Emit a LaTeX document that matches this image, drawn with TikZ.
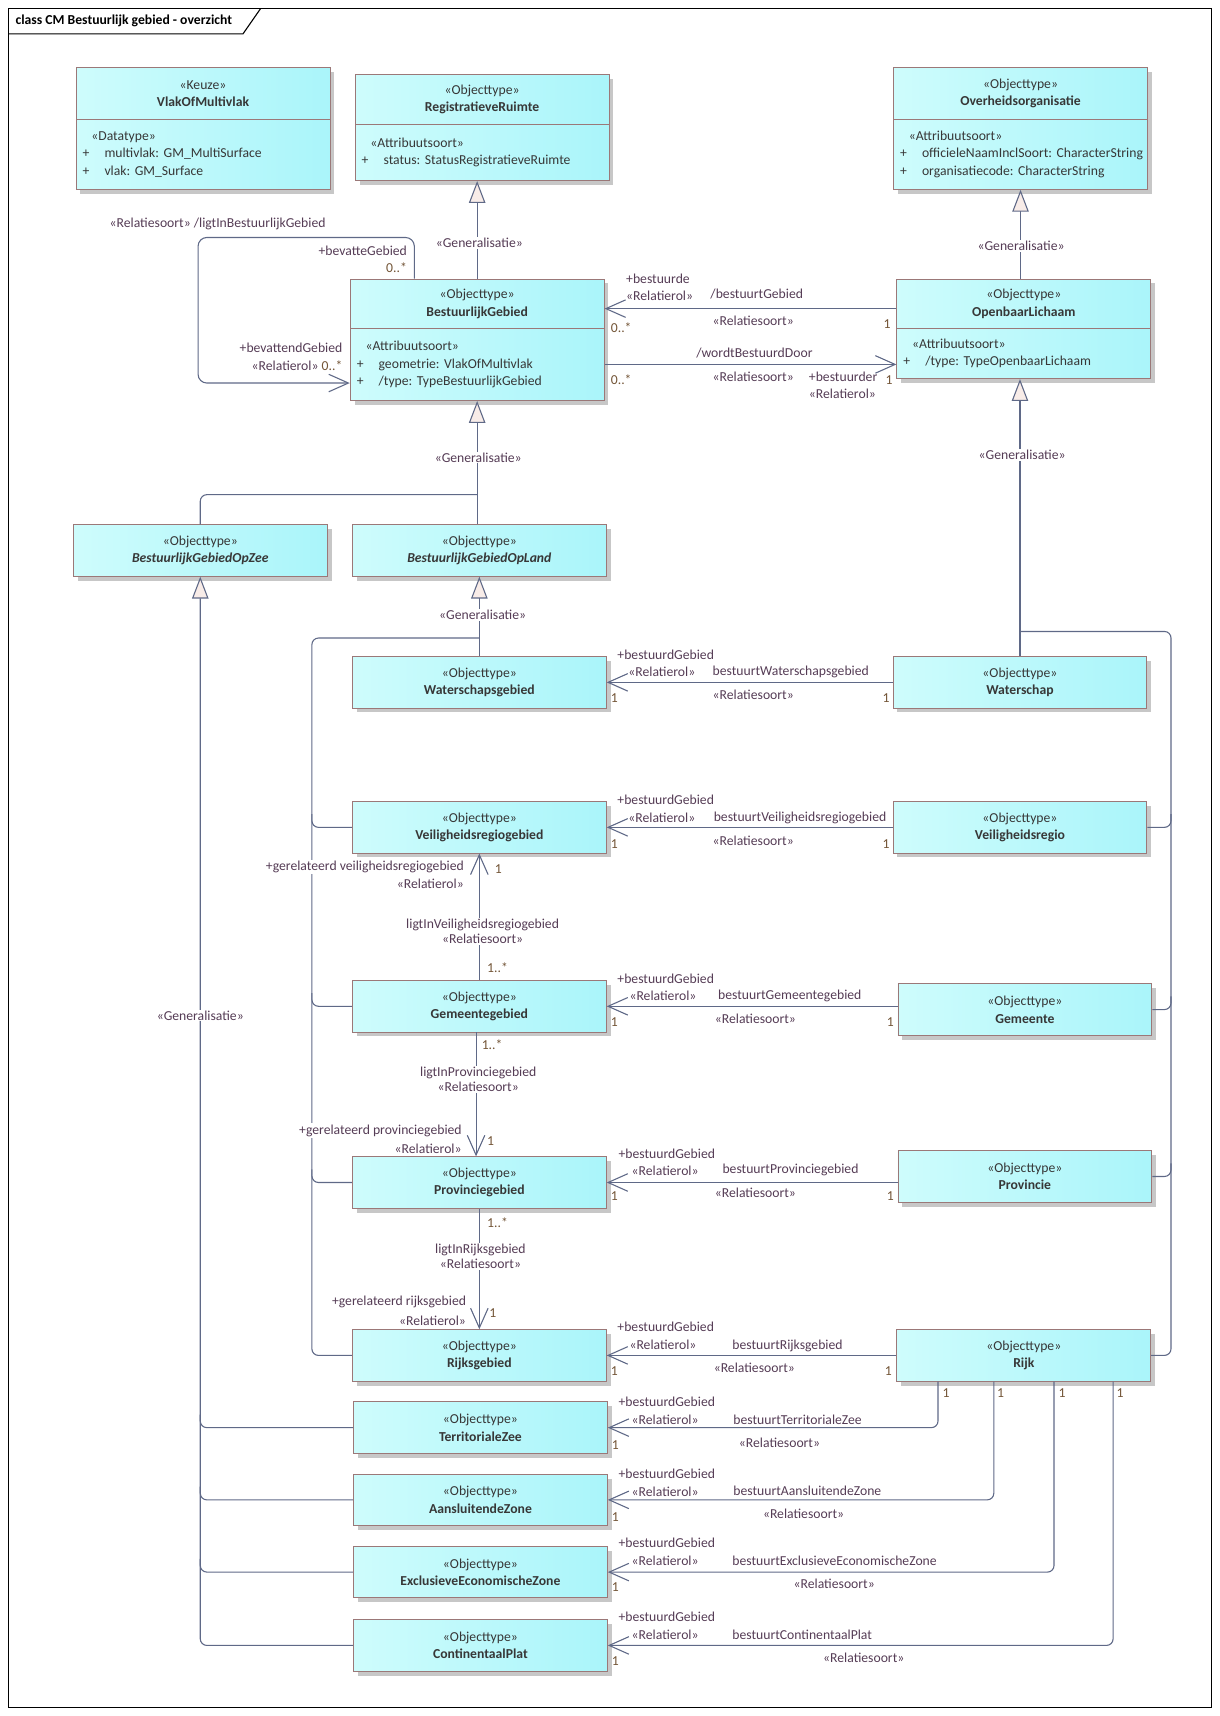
\documentclass[tikz,border=0pt]{standalone}
\usepackage{fontspec}
\setmainfont{Carlito}
\usetikzlibrary{arrows.meta, shadows}
\definecolor{boxline}{RGB}{155,120,120}
\definecolor{fillL}{RGB}{206,252,252}
\definecolor{fillR}{RGB}{170,245,250}
\definecolor{linecol}{RGB}{95,105,135}
\definecolor{boxtext}{RGB}{55,55,55}
\definecolor{lblcol}{RGB}{85,60,85}
\definecolor{multcol}{RGB}{115,85,55}
\definecolor{trifill}{RGB}{248,236,232}
\newcommand{\stereo}[1]{«#1»}
\newcommand{\attrline}[1]{\mbox{\makebox[20pt][l]{+}#1}}
\frenchspacing

\begin{document}
\begin{tikzpicture}[x=1pt,y=-1pt,
  every node/.style={font=\fontsize{12.5}{16}\selectfont\frenchspacing},
  cls/.style={draw=boxline, line width=0.8pt, left color=fillL, right color=fillR, inner sep=0pt,
    align=center, text=boxtext, minimum width=232pt,
    drop shadow={shadow xshift=4pt, shadow yshift=-4pt, fill=black!22, opacity=1}},
  box/.style={cls, minimum height=47pt},
  attr/.style={cls, align=left, text width=220pt},
  conn/.style={draw=linecol, line width=1pt},
  assoc/.style={conn, -{Straight Barb[length=18pt,width=16pt]}},
  gen/.style={conn, -{Triangle[length=20pt,width=15pt,fill=trifill]}},
  lbl/.style={text=lblcol, inner sep=1pt},
  lblw/.style={lbl, fill=white},
  twolbl/.style={lblw, align=center, font=\fontsize{12.5}{14}\selectfont},
  genlbl/.style={lbl, fill=white},
  mult/.style={text=multcol, inner sep=1pt}]
\useasboundingbox (0,0) rectangle (1114,1568);
\draw[line width=1.2pt] (8,8) rectangle (1107,1560);
\draw[line width=1pt] (8,31) -- (222,31) -- (238,8);
\node[anchor=west, inner sep=0pt, font=\fontsize{12.5}{15}\selectfont\bfseries] (title) at (14,19) {class CM Bestuurlijk gebied - overzicht};

\node[box] (vmh) at (185.5,85.5) {\stereo{Keuze}\\\textbf{VlakOfMultivlak}};
\node[attr, minimum height=64pt] (vma) at (185.5,141) {\hspace*{8pt}\stereo{Datatype}\\\attrline{multivlak: GM\_MultiSurface}\\\attrline{vlak: GM\_Surface}};
\node[cls, minimum height=46pt] (rrh) at (440.5,91) {\stereo{Objecttype}\\\textbf{RegistratieveRuimte}};
\node[attr, minimum height=51pt] (rra) at (440.5,139.5) {\hspace*{8pt}\stereo{Attribuutsoort}\\\attrline{status: StatusRegistratieveRuimte}};
\node[box] (ooh) at (932.5,85.5) {\stereo{Objecttype}\\\textbf{Overheidsorganisatie}};
\node[attr, minimum height=64pt] (ooa) at (932.5,141) {\hspace*{8pt}\stereo{Attribuutsoort}\\\attrline{officieleNaamInclSoort: CharacterString}\\\attrline{organisatiecode: CharacterString}};
\node[cls, minimum height=45pt] (bgh) at (436,277.5) {\stereo{Objecttype}\\\textbf{BestuurlijkGebied}};
\node[attr, minimum height=66pt] (bga) at (436,333) {\hspace*{8pt}\stereo{Attribuutsoort}\\\attrline{geometrie: VlakOfMultivlak}\\\attrline{/type: TypeBestuurlijkGebied}};
\node[cls, minimum height=45pt] (olh) at (935.5,277.5) {\stereo{Objecttype}\\\textbf{OpenbaarLichaam}};
\node[attr, minimum height=46pt] (ola) at (935.5,323) {\hspace*{8pt}\stereo{Attribuutsoort}\\\attrline{/type: TypeOpenbaarLichaam}};

\node[box] (bgzee) at (183,503) {\stereo{Objecttype}\\\textbf{\textit{BestuurlijkGebiedOpZee}}};
\node[box] (bgland) at (438,503) {\stereo{Objecttype}\\\textbf{\textit{BestuurlijkGebiedOpLand}}};
\node[box] (wsg) at (438,623.5) {\stereo{Objecttype}\\\textbf{Waterschapsgebied}};
\node[box] (ws) at (932,623.5) {\stereo{Objecttype}\\\textbf{Waterschap}};
\node[box] (vrg) at (438,756) {\stereo{Objecttype}\\\textbf{Veiligheidsregiogebied}};
\node[box] (vr) at (932,756) {\stereo{Objecttype}\\\textbf{Veiligheidsregio}};
\node[box] (gmg) at (438,919.5) {\stereo{Objecttype}\\\textbf{Gemeentegebied}};
\node[box] (gem) at (936.5,922.5) {\stereo{Objecttype}\\\textbf{Gemeente}};
\node[box] (pvg) at (438,1080.5) {\stereo{Objecttype}\\\textbf{Provinciegebied}};
\node[box] (prv) at (936.5,1075) {\stereo{Objecttype}\\\textbf{Provincie}};
\node[box] (rg) at (438,1238.5) {\stereo{Objecttype}\\\textbf{Rijksgebied}};
\node[box] (rijk) at (935.5,1238.5) {\stereo{Objecttype}\\\textbf{Rijk}};
\node[box] (tz) at (439,1304.5) {\stereo{Objecttype}\\\textbf{TerritorialeZee}};
\node[box] (az) at (439,1370.5) {\stereo{Objecttype}\\\textbf{AansluitendeZone}};
\node[box] (eez) at (439,1436.5) {\stereo{Objecttype}\\\textbf{ExclusieveEconomischeZone}};
\node[box] (cp) at (439,1503.5) {\stereo{Objecttype}\\\textbf{ContinentaalPlat}};

\coordinate (selfTop) at (181,217);
\coordinate (bgJoin) at (436,452);
\coordinate (landJoin) at (438,583);
\coordinate (landBus) at (285,583);
\coordinate (orgJoin) at (932,577);
\coordinate (orgBus) at (1070,577);

\draw[gen] (bgh.north) -- (bgh.north |- rra.south);
\draw[gen] (olh.north -| ooa.south) -- (ooa.south);
\draw[assoc, rounded corners=8] ([xshift=59]bgh.north west) |- (selfTop) |- ([yshift=-17]bga.west);
\draw[assoc] ([yshift=-4.5]olh.west) -- ([yshift=-4.5]olh.west -| bgh.east);
\draw[assoc] (bga.east) -- (bga.east -| ola.west);

\draw[conn, rounded corners=6] (bgzee.north) |- (bgJoin);
\draw[gen] (bga.south |- bgland.north) -- (bga.south);

\draw[conn, rounded corners=6] (rg.west) -| (landBus) -- (landJoin);
\draw[conn, rounded corners=6] (vrg.west) -| ([yshift=12]vrg.west -| landBus);
\draw[conn, rounded corners=6] (gmg.west) -| ([yshift=12]gmg.west -| landBus);
\draw[conn, rounded corners=6] (pvg.west) -| ([yshift=12]pvg.west -| landBus);
\draw[gen] (wsg.north) -- (bgland.south);

\draw[conn, rounded corners=6] (tz.west) -| ([yshift=12]tz.west -| bgzee.south);
\draw[conn, rounded corners=6] (az.west) -| ([yshift=12]az.west -| bgzee.south);
\draw[conn, rounded corners=6] (eez.west) -| ([yshift=12]eez.west -| bgzee.south);
\draw[gen, rounded corners=6] (cp.west) -| (bgzee.south);

\draw[conn, rounded corners=6] (rijk.east) -| (orgBus) -- (orgJoin);
\draw[conn, rounded corners=6] (vr.east) -| ([yshift=12]vr.east -| orgBus);
\draw[conn, rounded corners=6] (gem.east) -| ([yshift=12]gem.east -| orgBus);
\draw[conn, rounded corners=6] (prv.east) -| ([yshift=12]prv.east -| orgBus);
\draw[gen] (ws.north) -- (ws.north |- ola.south);

\draw[assoc] (ws.west) -- (wsg.east);
\draw[assoc] (vr.west) -- (vrg.east);
\draw[assoc] (gem.west |- gmg.east) -- (gmg.east);
\draw[assoc] (prv.west |- pvg.east) -- (pvg.east);
\draw[assoc] (rijk.west) -- (rg.east);
\draw[assoc, rounded corners=6] ([xshift=38]rijk.south west) |- (tz.east);
\draw[assoc, rounded corners=6] ([xshift=89]rijk.south west) |- (az.east);
\draw[assoc, rounded corners=6] ([xshift=144]rijk.south west) |- (eez.east);
\draw[assoc, rounded corners=6] ([xshift=198]rijk.south west) |- (cp.east);

\draw[assoc] (gmg.north) -- (vrg.south);
\draw[assoc] ([xshift=-3]gmg.south) -- ([xshift=-3]pvg.north);
\draw[assoc] (pvg.south) -- (rg.north);

\node[genlbl] (genRR) at (438,222) {\stereo{Generalisatie}};
\node[genlbl] (genOO) at (933,225) {\stereo{Generalisatie}};
\node[genlbl] (genBG) at (437,418) {\stereo{Generalisatie}};
\node[genlbl] (genLand) at (441,562) {\stereo{Generalisatie}};
\node[genlbl] (genOL) at (934,416) {\stereo{Generalisatie}};
\node[genlbl] (genZee) at (183,928) {\stereo{Generalisatie}};

\node[lbl, anchor=west] (selfNaam) at (99,205) {\stereo{Relatiesoort} /ligtInBestuurlijkGebied};
\node[lbl, anchor=east] (selfRolA) at (373,229) {+bevatteGebied};
\node[mult, anchor=east] (selfMultA) at (373,245) {0..*};
\node[lbl, anchor=east] (selfRolB) at (314,318) {+bevattendGebied};
\node[lbl, anchor=east] (selfMultB) at (314,334) {\stereo{Relatierol} \textcolor{multcol}{0..*}};

\node[lbl, anchor=west] (bgRol) at (571,255) {+bestuurde};
\node[lbl, anchor=west] (bgRolSt) at (571,270) {\stereo{Relatierol}};
\node[lbl, anchor=west] (bgNaam) at (648,269) {/bestuurtGebied};
\node[lbl, anchor=west] (bgSoort) at (650,293) {\stereo{Relatiesoort}};
\node[mult, anchor=west] (bgMultA) at (557,299) {0..*};
\node[mult, anchor=east] (olMultA) at (815,296) {1};
\node[lbl, anchor=west] (olNaam) at (635,323) {/wordtBestuurdDoor};
\node[lbl, anchor=west] (olSoort) at (650,344) {\stereo{Relatiesoort}};
\node[lbl, anchor=west] (olRol) at (738,344) {+bestuurder};
\node[lbl, anchor=west] (olRolSt) at (738,360) {\stereo{Relatierol}};
\node[mult, anchor=west] (bgMultB) at (557,347) {0..*};
\node[mult, anchor=west] (olMultB) at (808,347) {1};

\node[lbl, anchor=west] (wsRol) at (563,598) {+bestuurdGebied};
\node[lbl, anchor=west] (wsRolSt) at (573,614) {\stereo{Relatierol}};
\node[lbl, anchor=west] (wsNaam) at (650,614) {bestuurtWaterschapsgebied};
\node[lbl, anchor=west] (wsSoort) at (650,635) {\stereo{Relatiesoort}};
\node[mult, anchor=west] (wsgMult) at (557,638) {1};
\node[mult, anchor=east] (wsMult) at (814,638) {1};

\node[lbl, anchor=west] (vrRol) at (563,731) {+bestuurdGebied};
\node[lbl, anchor=west] (vrRolSt) at (573,747) {\stereo{Relatierol}};
\node[lbl, anchor=west] (vrNaam) at (651,747) {bestuurtVeiligheidsregiogebied};
\node[lbl, anchor=west] (vrSoort) at (650,768) {\stereo{Relatiesoort}};
\node[mult, anchor=west] (vrgMultR) at (557,771) {1};
\node[mult, anchor=east] (vrMult) at (814,771) {1};

\node[lbl, anchor=west] (gemRol) at (563,894) {+bestuurdGebied};
\node[lbl, anchor=west] (gemRolSt) at (574,910) {\stereo{Relatierol}};
\node[lbl, anchor=west] (gemNaam) at (655,910) {bestuurtGemeentegebied};
\node[lbl, anchor=west] (gemSoort) at (652,931) {\stereo{Relatiesoort}};
\node[mult, anchor=west] (gmgMultR) at (557,934) {1};
\node[mult, anchor=east] (gemMult) at (818,934) {1};

\node[lbl, anchor=west] (prvRol) at (564,1054) {+bestuurdGebied};
\node[lbl, anchor=west] (prvRolSt) at (576,1070) {\stereo{Relatierol}};
\node[lbl, anchor=west] (prvNaam) at (659,1069) {bestuurtProvinciegebied};
\node[lbl, anchor=west] (prvSoort) at (652,1090) {\stereo{Relatiesoort}};
\node[mult, anchor=west] (pvgMultR) at (557,1093) {1};
\node[mult, anchor=east] (prvMult) at (818,1093) {1};

\node[lbl, anchor=west] (rijkRol) at (563,1212) {+bestuurdGebied};
\node[lbl, anchor=west] (rijkRolSt) at (574,1229) {\stereo{Relatierol}};
\node[lbl, anchor=west] (rijkNaam) at (668,1230) {bestuurtRijksgebied};
\node[lbl, anchor=west] (rijkSoort) at (651,1250) {\stereo{Relatiesoort}};
\node[mult, anchor=west] (rgMultR) at (557,1253) {1};
\node[mult, anchor=east] (rijkMult) at (816,1253) {1};

\node[lbl, anchor=west] (tzRol) at (564,1281) {+bestuurdGebied};
\node[lbl, anchor=west] (tzRolSt) at (576,1297) {\stereo{Relatierol}};
\node[lbl, anchor=west] (tzNaam) at (669,1297) {bestuurtTerritorialeZee};
\node[lbl, anchor=west] (tzSoort) at (674,1318) {\stereo{Relatiesoort}};
\node[mult, anchor=west] (tzMult) at (558,1320) {1};
\node[mult, anchor=west] (rijkMultTz) at (860,1273) {1};

\node[lbl, anchor=west] (azRol) at (564,1347) {+bestuurdGebied};
\node[lbl, anchor=west] (azRolSt) at (576,1363) {\stereo{Relatierol}};
\node[lbl, anchor=west] (azNaam) at (669,1362) {bestuurtAansluitendeZone};
\node[lbl, anchor=west] (azSoort) at (696,1383) {\stereo{Relatiesoort}};
\node[mult, anchor=west] (azMult) at (558,1386) {1};
\node[mult, anchor=west] (rijkMultAz) at (910,1273) {1};

\node[lbl, anchor=west] (eezRol) at (564,1410) {+bestuurdGebied};
\node[lbl, anchor=west] (eezRolSt) at (576,1426) {\stereo{Relatierol}};
\node[lbl, anchor=west] (eezNaam) at (668,1426) {bestuurtExclusieveEconomischeZone};
\node[lbl, anchor=west] (eezSoort) at (724,1447) {\stereo{Relatiesoort}};
\node[mult, anchor=west] (eezMult) at (558,1450) {1};
\node[mult, anchor=west] (rijkMultEez) at (966,1273) {1};

\node[lbl, anchor=west] (cpRol) at (564,1477) {+bestuurdGebied};
\node[lbl, anchor=west] (cpRolSt) at (576,1494) {\stereo{Relatierol}};
\node[lbl, anchor=west] (cpNaam) at (668,1494) {bestuurtContinentaalPlat};
\node[lbl, anchor=west] (cpSoort) at (751,1515) {\stereo{Relatiesoort}};
\node[mult, anchor=west] (cpMult) at (558,1518) {1};
\node[mult, anchor=west] (rijkMultCp) at (1019,1273) {1};

\node[lblw, anchor=east] (vrgRol) at (425,792) {+gerelateerd veiligheidsregiogebied};
\node[lbl, anchor=east] (vrgRolSt) at (425,808) {\stereo{Relatierol}};
\node[mult, anchor=west] (vrgMult) at (451,794) {1};
\node[twolbl] (vrgNaam) at (441,851) {ligtInVeiligheidsregiogebied\\\stereo{Relatiesoort}};
\node[mult, anchor=west] (gmgMultA) at (444,884) {1..*};

\node[mult, anchor=west] (gmgMultB) at (439,955) {1..*};
\node[twolbl] (pvgNaam) at (437,986) {ligtInProvinciegebied\\\stereo{Relatiesoort}};
\node[lblw, anchor=east] (pvgRol) at (423,1033) {+gerelateerd provinciegebied};
\node[lbl, anchor=east] (pvgRolSt) at (423,1050) {\stereo{Relatierol}};
\node[mult, anchor=west] (pvgMult) at (444,1043) {1};

\node[mult, anchor=west] (pvgMultB) at (444,1117) {1..*};
\node[twolbl] (rgNaam) at (439,1148) {ligtInRijksgebied\\\stereo{Relatiesoort}};
\node[lblw, anchor=east] (rgRol) at (427,1190) {+gerelateerd rijksgebied};
\node[lbl, anchor=east] (rgRolSt) at (427,1207) {\stereo{Relatierol}};
\node[mult, anchor=west] (rgMult) at (446,1200) {1};
\end{tikzpicture}
\end{document}
